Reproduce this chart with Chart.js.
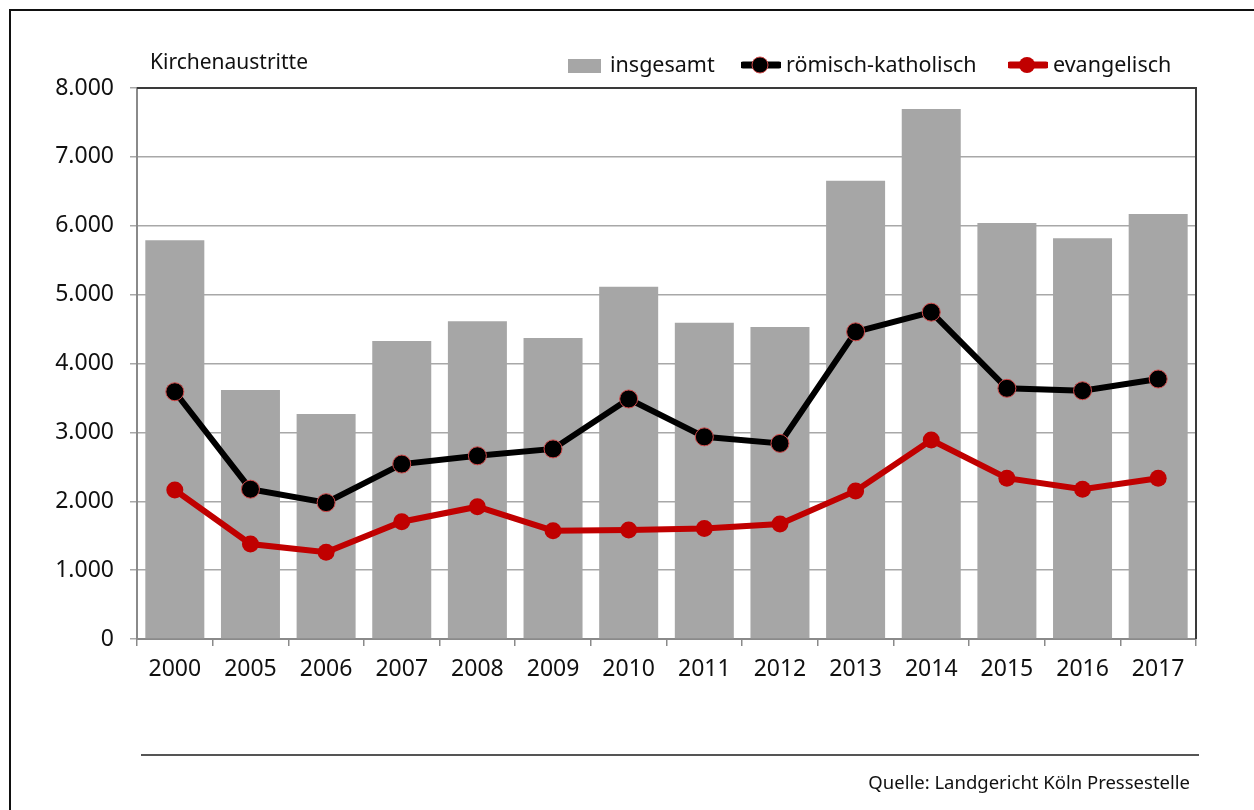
<!DOCTYPE html>
<html><head><meta charset="utf-8">
<script src="https://cdn.jsdelivr.net/npm/chart.js@4/dist/chart.umd.min.js"></script>
<style>
html,body{margin:0;padding:0;background:#fff;}
body{width:1254px;height:810px;position:relative;overflow:hidden;font-family:"Noto Sans",sans-serif;color:#111;}
#frame{position:absolute;left:9px;top:9px;width:1400px;height:1000px;border:2px solid #111;box-sizing:border-box;}
#c{position:absolute;left:0;top:0;}
.t{position:absolute;white-space:nowrap;line-height:1;}
#title{left:150px;top:51px;font-size:21px;}
.leg{position:absolute;top:53px;font-size:21.5px;line-height:1;white-space:nowrap;}
#rule{position:absolute;left:141px;top:754px;width:1058px;height:2px;background:#555;}
#src{position:absolute;right:64px;top:773px;font-size:18.5px;line-height:1;}
</style></head>
<body>
<div id="frame"></div>
<canvas id="c" width="1254" height="810"></canvas>
<div id="title" class="t">Kirchenaustritte</div>
<div class="leg" style="left:568px;"><span style="display:inline-block;width:33px;height:14px;background:#a6a6a6;vertical-align:-1px;margin-right:9px;"></span>insgesamt</div>
<div class="leg" style="left:741px;"><svg width="40" height="20" style="vertical-align:-3px;margin-right:5px;"><line x1="2" y1="10" x2="38" y2="10" stroke="#000" stroke-width="7" stroke-linecap="round"/><circle cx="19" cy="10" r="8" fill="#000" stroke="#d04a4a" stroke-width="1"/></svg>römisch-katholisch</div>
<div class="leg" style="left:1008px;"><svg width="40" height="20" style="vertical-align:-3px;margin-right:5px;"><line x1="2" y1="10" x2="38" y2="10" stroke="#c00000" stroke-width="7" stroke-linecap="round"/><circle cx="19" cy="10" r="8" fill="#c00000"/></svg>evangelisch</div>
<div id="rule"></div>
<div id="src">Quelle: Landgericht Köln Pressestelle</div>
<script>
const categories = ["2000","2005","2006","2007","2008","2009","2010","2011","2012","2013","2014","2015","2016","2017"];
const insgesamt = [5790,3615,3267,4325,4615,4370,5115,4590,4530,6655,7695,6040,5820,6170];
const katholisch = [3590,2175,1980,2540,2660,2760,3485,2935,2840,4460,4745,3640,3605,3775];
const evangelisch = [2163,1379,1259,1703,1921,1573,1583,1605,1670,2150,2889,2335,2175,2335];
const yTicks = [0,1000,2000,3000,4000,5000,6000,7000,8000];
const seriesNames = ["insgesamt","römisch-katholisch","evangelisch"];

function fmt(v){ return String(v).replace(/\B(?=(\d{3})+(?!\d))/g,"."); }

const borderPlugin = {
  id:'plotBorder',
  afterDatasetsDraw(chart){
    const a = chart.chartArea, ctx = chart.ctx;
    ctx.save();
    ctx.strokeStyle = '#3a3a3a'; ctx.lineWidth = 2;
    ctx.beginPath();
    ctx.moveTo(a.left, a.top); ctx.lineTo(a.right, a.top); ctx.lineTo(a.right, a.bottom);
    ctx.stroke();
    ctx.restore();
  }
};

new Chart(document.getElementById('c'), {
  type:'bar',
  data:{
    labels: categories,
    datasets:[
      {type:'line', label:seriesNames[2], data:evangelisch, order:1, borderColor:'#c00000', backgroundColor:'#c00000', borderWidth:6, pointRadius:8.5, pointBorderWidth:0, pointBackgroundColor:'#c00000', tension:0},
      {type:'line', label:seriesNames[1], data:katholisch, order:2, borderColor:'#000', backgroundColor:'#000', borderWidth:6, pointRadius:9, pointBorderWidth:1, pointBorderColor:'#d04a4a', pointBackgroundColor:'#000', tension:0},
      {type:'bar', label:seriesNames[0], data:insgesamt, order:3, backgroundColor:'#a6a6a6', barPercentage:0.78, categoryPercentage:1.0}
    ]
  },
  options:{
    responsive:false, animation:false, devicePixelRatio:1,
    layout:{padding:{left:0,top:88,right:58,bottom:0}},
    plugins:{legend:{display:false}, tooltip:{enabled:false}, title:{display:false}},
    scales:{
      x:{
        offset:true,
        grid:{offset:true, drawOnChartArea:false, tickLength:7, color:'#8a8a8a', lineWidth:1.5},
        border:{color:'#8a8a8a', width:2},
        ticks:{font:{family:'Noto Sans', size:23}, color:'#111', padding:10, maxRotation:0},
        afterFit(s){ s.height = 171; }
      },
      y:{
        min:0, max:8000,
        afterBuildTicks(s){ s.ticks = yTicks.map(v=>({value:v})); },
        grid:{color:'#a8a8a8', lineWidth:1.5, tickLength:7},
        border:{color:'#8a8a8a', width:2},
        ticks:{font:{family:'Noto Sans', size:23}, color:'#111', padding:16, callback:v=>fmt(v)},
        afterFit(s){ s.width = 137; }
      }
    }
  },
  plugins:[borderPlugin]
});
</script>
</body></html>
